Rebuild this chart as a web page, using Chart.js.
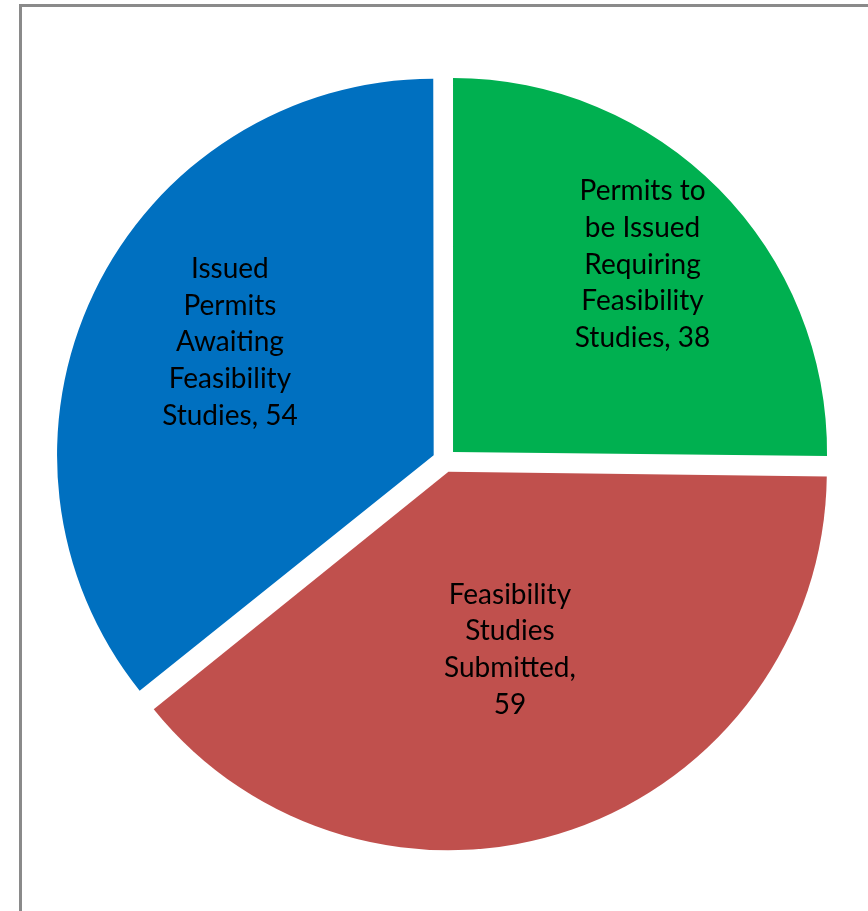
<!DOCTYPE html>
<html><head><meta charset="utf-8">
<script src="https://cdn.jsdelivr.net/npm/chart.js@4"></script>
<style>
html,body{margin:0;padding:0;background:#fff;overflow:hidden;width:868px;height:911px;}
#frame{position:absolute;left:19px;top:4px;width:1000px;height:1000px;border-left:3px solid #8a8a8a;border-top:3px solid #8a8a8a;}
#c{position:absolute;left:0;top:0;}
</style></head><body>
<div id="frame"></div>
<canvas id="c" width="868" height="911"></canvas>
<script>
const categories = ["Permits to be Issued Requiring Feasibility Studies", "Feasibility Studies Submitted", "Issued Permits Awaiting Feasibility Studies"];
const values = [38, 59, 54];
const colors = ["#00B050", "#C0504D", "#0070C0"];
const labelRadius = [0.745, 0.535, 0.655];
const labelAngleShift = [0, 0, 3.2];

const FONT = '28px Lato';
const LINE_H = 36.7;
const WRAP_W = 145;

function wrap(ctx, text, maxW) {
  const words = text.split(' ');
  const lines = [];
  let cur = '';
  for (const w of words) {
    const t = cur ? cur + ' ' + w : w;
    if (cur && ctx.measureText(t).width > maxW) { lines.push(cur); cur = w; }
    else cur = t;
  }
  if (cur) lines.push(cur);
  return lines;
}

const labelPlugin = {
  id: 'sliceLabels',
  afterDatasetsDraw(chart) {
    const ctx = chart.ctx;
    const meta = chart.getDatasetMeta(0);
    ctx.save();
    ctx.font = FONT;
    ctx.fillStyle = '#000';
    ctx.textAlign = 'center';
    ctx.textBaseline = 'middle';
    meta.data.forEach((arc, i) => {
      const p = arc.getProps(['x', 'y', 'startAngle', 'endAngle', 'outerRadius'], true);
      const mid = (p.startAngle + p.endAngle) / 2 + labelAngleShift[i] * Math.PI / 180;
      const r = p.outerRadius * labelRadius[i];
      const cx = p.x + Math.cos(mid) * r;
      const cy = p.y + Math.sin(mid) * r;
      const lines = wrap(ctx, chart.data.labels[i] + ', ' + chart.data.datasets[0].data[i], WRAP_W);
      const y0 = cy - (lines.length - 1) * LINE_H / 2;
      lines.forEach((l, k) => ctx.fillText(l, cx, y0 + k * LINE_H));
    });
    ctx.restore();
  }
};

new Chart(document.getElementById('c'), {
  type: 'pie',
  data: {
    labels: categories,
    datasets: [{
      data: values,
      backgroundColor: colors,
      borderWidth: 0,
      offset: 48,
      hoverOffset: 48
    }]
  },
  options: {
    responsive: false,
    devicePixelRatio: 1,
    animation: false,
    events: [],
    layout: { padding: { left: 46.5, right: 25.5, top: 62.5, bottom: 52.5 } },
    plugins: { legend: { display: false }, tooltip: { enabled: false } }
  },
  plugins: [labelPlugin]
});
</script>
</body></html>
